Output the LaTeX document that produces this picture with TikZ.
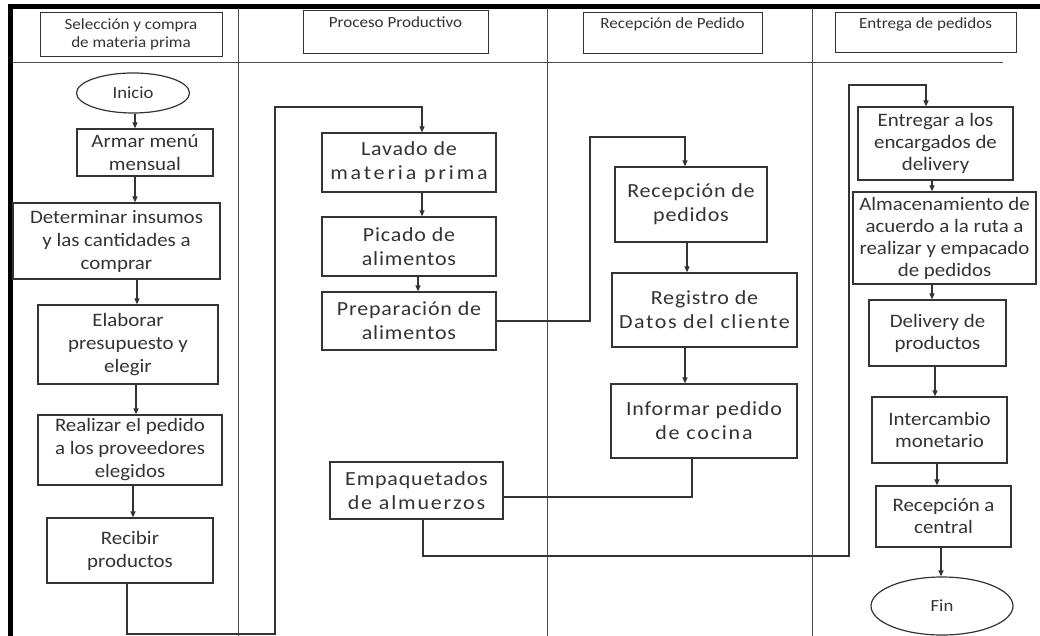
\documentclass[tikz,border=0pt]{standalone}
\usepackage{fontspec}
\setmainfont{Carlito}[FakeStretch=1.1]
\usetikzlibrary{arrows.meta,shapes.geometric}
\newcommand{\spread}[2]{{\addfontfeature{LetterSpace=#1}#2}}
\begin{document}
\begin{tikzpicture}[x=1pt,y=-1pt,
  boxbase/.style={draw=black!80, line width=1.2pt, align=center, text=black!80, inner sep=1pt},
  hdr/.style={boxbase, line width=0.9pt, font=\fontsize{15.5}{18}\selectfont},
  lbox/.style={boxbase, font=\fontsize{19}{23}\selectfont},
  mbox/.style={boxbase, font=\fontsize{20}{24}\selectfont\addfontfeature{LetterSpace=4}},
  rbox/.style={boxbase, font=\fontsize{19}{22}\selectfont},
  term/.style={boxbase, ellipse, inner sep=0pt, font=\fontsize{17}{20}\selectfont},
  lane/.style={draw=black!70, line width=1pt},
  conn/.style={draw=black!80, line width=1.2pt},
  arr/.style={conn, -{Triangle[length=6pt,width=5pt]}}
]
\useasboundingbox (0,0) rectangle (1040,636);
% frame
\draw[line width=4.4pt] (10.5,636) -- (10.5,6.5) -- (1040,6.5);
% lanes
\draw[lane] (238,8) -- (238,636);
\draw[lane] (547,8) -- (547,636);
\draw[lane] (812,8) -- (812,636);
\draw[lane] (12,63) -- (1003,63);
% headers
\node[hdr, minimum width=182, minimum height=44] (h1) at (131,34) {Selección y compra\\de materia prima};
\node[hdr, minimum width=185, minimum height=43] (h2) at (395.5,31.5) {Proceso Productivo\\\mbox{}};
\node[hdr, minimum width=179, minimum height=41] (h3) at (672.5,32.5) {Recepción de Pedido\\\mbox{}};
\node[hdr, minimum width=181, minimum height=40] (h4) at (925.5,32) {Entrega de pedidos\\\mbox{}};
% lane 1
\node[term, minimum width=113, minimum height=40] (inicio) at (133,93) {Inicio};
\node[lbox, minimum width=136, minimum height=47] (armar) at (145,152.5) {Armar menú\\mensual};
\node[lbox, minimum width=207, minimum height=76] (det) at (116.5,241) {Determinar insumos\\y las cantidades a\\comprar};
\node[lbox, minimum width=180, minimum height=79] (elab) at (128,344.5) {Elaborar\\presupuesto y\\elegir};
\node[lbox, minimum width=184, minimum height=70] (real) at (130,450) {Realizar el pedido\\a los proveedores\\elegidos};
\node[lbox, minimum width=166, minimum height=65] (recib) at (130,550.5) {Recibir\\productos};
% lane 2
\node[mbox, minimum width=174, minimum height=59] (lav) at (409,162.5) {Lavado de\\\spread{14}{materia prima}};
\node[mbox, minimum width=174, minimum height=59] (pic) at (409,246.5) {Picado de\\alimentos};
\node[mbox, minimum width=174, minimum height=58] (prep) at (409,321) {Preparación de\\alimentos};
\node[mbox, minimum width=173, minimum height=57] (emp) at (416.5,490.5) {Empaquetados\\\spread{9}{de almuerzos}};
% lane 3
\node[mbox, minimum width=152, minimum height=75] (rped) at (691,204.5) {Recepción de\\pedidos};
\node[mbox, minimum width=185, minimum height=74] (reg) at (704.5,310) {Registro de\\\spread{8}{Datos del cliente}};
\node[mbox, minimum width=186, minimum height=74] (inf) at (704,421) {Informar pedido\\\spread{9}{de cocina}};
% lane 4
\node[rbox, minimum width=155, minimum height=73] (ent) at (935.5,143.5) {Entregar a los\\encargados de\\delivery};
\node[rbox, minimum width=183, minimum height=92] (alm) at (944.5,238) {Almacenamiento de\\acuerdo a la ruta a\\realizar y empacado\\de pedidos};
\node[rbox, minimum width=137, minimum height=66] (del) at (937.5,333) {Delivery de\\productos};
\node[rbox, minimum width=135, minimum height=66] (int) at (939.5,430) {Intercambio\\monetario};
\node[rbox, minimum width=135, minimum height=61] (rcen) at (943.5,516.5) {Recepción a\\central};
\node[term, minimum width=142, minimum height=58] (fin) at (942,606) {Fin};
% arrows lane 1
\draw[arr] (135,0 |- inicio.south) -- (135,0 |- armar.north);
\draw[arr] (135,0 |- armar.south) -- (135,0 |- det.north);
\draw[arr] (137,0 |- det.south) -- (137,0 |- elab.north);
\draw[arr] (136,0 |- elab.south) -- (136,0 |- real.north);
\draw[arr] (133,0 |- real.south) -- (133,0 |- recib.north);
% connector lane 1 -> lane 2
\coordinate (k1) at (275,634);
\coordinate (k2) at (275,107);
\draw[arr] (127,0 |- recib.south) |- (k1) -- (k2) -| (422,0 |- lav.north);
% lane 2
\draw[arr] (422,0 |- lav.south) -- (422,0 |- pic.north);
\draw[arr] (418,0 |- pic.south) -- (418,0 |- prep.north);
\coordinate (k3) at (590,137);
\draw[arr] (prep.east) -| (k3) -| (685,0 |- rped.north);
% lane 3
\draw[arr] (687,0 |- rped.south) -- (687,0 |- reg.north);
\draw[arr] (685,0 |- reg.south) -- (685,0 |- inf.north);
\draw[conn] (692,0 |- inf.south) |- ([yshift=-6.5pt]emp.east);
\coordinate (k4) at (849,556);
\coordinate (k5) at (849,85);
\draw[arr] (423,0 |- emp.south) |- (k4) -- (k5) -| (926,0 |- ent.north);
% lane 4
\draw[arr] (932,0 |- ent.south) -- (932,0 |- alm.north);
\draw[arr] (932,0 |- alm.south) -- (932,0 |- del.north);
\draw[arr] (935,0 |- del.south) -- (935,0 |- int.north);
\draw[arr] (937,0 |- int.south) -- (937,0 |- rcen.north);
\draw[arr] (941,0 |- rcen.south) -- (941,0 |- fin.north);
\end{tikzpicture}
\end{document}
